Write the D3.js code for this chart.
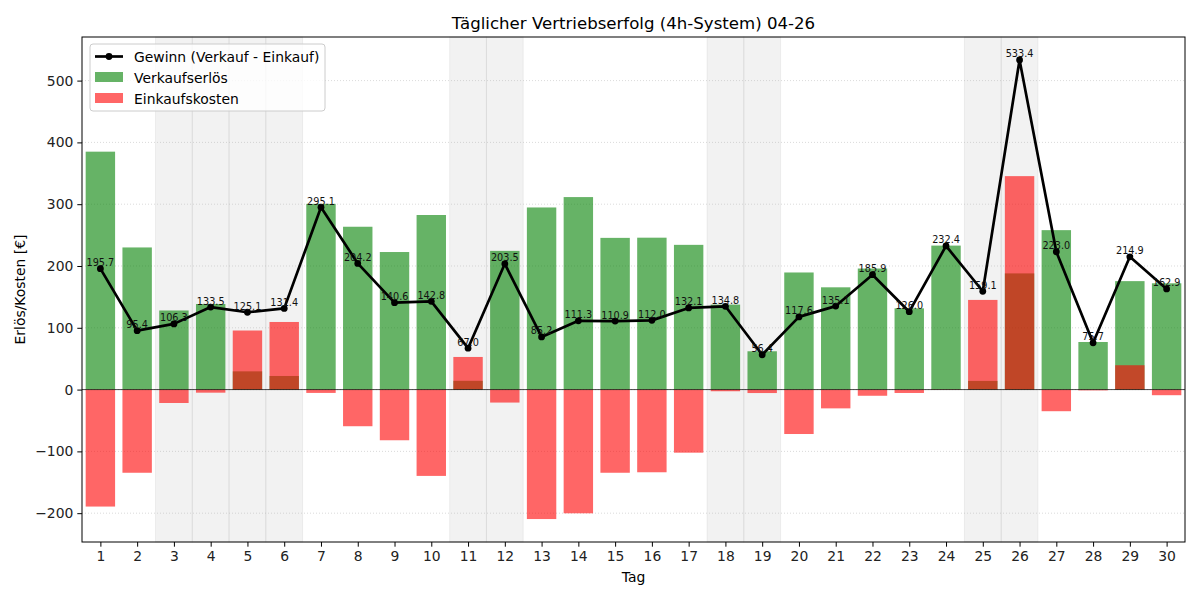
<!DOCTYPE html>
<html>
<head>
<meta charset="utf-8">
<script src="https://cdn.jsdelivr.net/npm/d3@7"></script>
<style>
  body { margin: 0; background: #fff; }
  svg { font-family: "DejaVu Sans", sans-serif; }
</style>
</head>
<body>
<div id="chart"></div>
<script>
// days of the month
const days = d3.range(1, 31)
// Verkaufserlös per day
const revenue = [385, 230, 128, 138.5, 29.5, 22, 300.5, 263.5, 222.6, 282.5,
                 14.2, 224.5, 294.7, 311.5, 245.5, 245.8, 234.2, 137.5, 62, 189.5,
                 165.5, 195.9, 131.5, 233, 14, 188, 258, 77, 175.5, 172]
// Einkaufskosten as plotted (negative = cost)
const costs = [-189.3, -134.6, -21.7, -5, 95.6, 109.4, -5.4, -59.3, -82, -139.7,
               52.8, -21, -209.5, -200.2, -134.6, -133.8, -102.1, -2.7, -5.6, -71.9,
               -30.4, -10, -5.5, -0.6, 145.1, 345.4, -35, -1.3, 39.4, -9.1]
// Gewinn labels
const profit = [195.7, 95.4, 106.3, 133.5, 125.1, 131.4, 295.1, 204.2, 140.6, 142.8,
                67.0, 203.5, 85.2, 111.3, 110.9, 112.0, 132.1, 134.8, 56.4, 117.6,
                135.1, 185.9, 126.0, 232.4, 159.1, 533.4, 223.0, 75.7, 214.9, 162.9]
// shaded days
const shadedDays = [3, 4, 5, 6, 11, 12, 18, 19, 25, 26]
const yTicks = [-200, -100, 0, 100, 200, 300, 400, 500]

const width = 1200
const height = 600
const mLeft = 82, mRight = 1185, mTop = 37, mBottom = 542
const fs = "13.9px"

const svg = d3.select("#chart").append("svg")
    .attr("width", width)
    .attr("height", height)

const x = d3.scaleLinear().domain([0.5, 30.5]).range([mLeft, mRight])
const all = revenue.concat(costs, profit)
const lo = d3.min(all), hi = d3.max(all)
const pad = (hi - lo) * 0.05
const y = d3.scaleLinear().domain([lo - pad, hi + pad]).range([mBottom, mTop])

// shaded days
svg.append("g").selectAll("rect")
    .data(shadedDays)
    .join("rect")
    .attr("x", d => x(d - 0.5))
    .attr("width", x(1.5) - x(0.5))
    .attr("y", mTop)
    .attr("height", mBottom - mTop)
    .attr("fill", "gray")
    .attr("fill-opacity", 0.1)
    .attr("stroke", "gray")
    .attr("stroke-opacity", 0.1)

// grid
svg.append("g").selectAll("line")
    .data(yTicks)
    .join("line")
    .attr("x1", mLeft).attr("x2", mRight)
    .attr("y1", d => y(d)).attr("y2", d => y(d))
    .attr("stroke", "#b0b0b0")
    .attr("stroke-opacity", 0.6)
    .attr("stroke-width", 0.8)
    .attr("stroke-dasharray", "1,2")

const bw = x(1.4) - x(0.6)

// Verkaufserlös
svg.append("g").selectAll("rect")
    .data(days)
    .join("rect")
    .attr("x", d => x(d) - bw / 2)
    .attr("width", bw)
    .attr("y", (d, i) => y(Math.max(0, revenue[i])))
    .attr("height", (d, i) => Math.abs(y(revenue[i]) - y(0)))
    .attr("fill", "green")
    .attr("opacity", 0.6)

// Einkaufskosten
svg.append("g").selectAll("rect")
    .data(days)
    .join("rect")
    .attr("x", d => x(d) - bw / 2)
    .attr("width", bw)
    .attr("y", (d, i) => y(Math.max(0, costs[i])))
    .attr("height", (d, i) => Math.abs(y(costs[i]) - y(0)))
    .attr("fill", "red")
    .attr("opacity", 0.6)

// zero line
svg.append("line")
    .attr("x1", mLeft).attr("x2", mRight)
    .attr("y1", y(0)).attr("y2", y(0))
    .attr("stroke", "black")
    .attr("stroke-opacity", 0.7)
    .attr("stroke-width", 1)

// profit line
const line = d3.line().x((d, i) => x(days[i])).y(d => y(d))
svg.append("path")
    .datum(profit)
    .attr("d", line)
    .attr("fill", "none")
    .attr("stroke", "black")
    .attr("stroke-width", 2.7)
    .attr("stroke-linejoin", "round")

svg.append("g").selectAll("circle")
    .data(profit)
    .join("circle")
    .attr("cx", (d, i) => x(days[i]))
    .attr("cy", d => y(d))
    .attr("r", 3.4)
    .attr("fill", "black")

svg.append("g").selectAll("text")
    .data(profit)
    .join("text")
    .attr("x", (d, i) => x(days[i]))
    .attr("y", d => y(d) - 2.5)
    .attr("text-anchor", "middle")
    .attr("font-size", "9.7px")
    .attr("fill", "#111")
    .text(d => d.toFixed(1))

// axes
const xAxis = d3.axisBottom(x).tickValues(days).tickSizeOuter(0).tickSize(4.7).tickPadding(4)
svg.append("g")
    .attr("transform", "translate(0," + mBottom + ")")
    .call(xAxis)
    .call(g => g.selectAll("text").attr("font-size", fs).attr("fill", "#222").attr("font-family", "DejaVu Sans"))

const yAxis = d3.axisLeft(y).tickValues(yTicks).tickSizeOuter(0).tickSize(4.7).tickPadding(4)
    .tickFormat(d => d < 0 ? "\u2212" + Math.abs(d) : d)
svg.append("g")
    .attr("transform", "translate(" + mLeft + ",0)")
    .call(yAxis)
    .call(g => g.selectAll("text").attr("font-size", fs).attr("fill", "#222").attr("font-family", "DejaVu Sans"))

svg.selectAll(".domain").remove()
svg.append("rect")
    .attr("x", mLeft).attr("y", mTop)
    .attr("width", mRight - mLeft).attr("height", mBottom - mTop)
    .attr("fill", "none")
    .attr("stroke", "black")
    .attr("stroke-width", 1)

// title and labels
svg.append("text")
    .attr("x", (mLeft + mRight) / 2).attr("y", 29)
    .attr("text-anchor", "middle")
    .attr("font-size", "16.6px")
    .text("Täglicher Vertriebserfolg (4h-System) 04-26")

svg.append("text")
    .attr("x", (mLeft + mRight) / 2).attr("y", 582)
    .attr("text-anchor", "middle")
    .attr("font-size", fs)
    .text("Tag")

svg.append("text")
    .attr("transform", "translate(25," + ((mTop + mBottom) / 2) + ") rotate(-90)")
    .attr("text-anchor", "middle")
    .attr("font-size", fs)
    .text("Erlös/Kosten [€]")

// legend
const lg = svg.append("g").attr("transform", "translate(90,44)")
lg.append("rect")
    .attr("width", 235).attr("height", 67)
    .attr("rx", 3)
    .attr("fill", "white").attr("fill-opacity", 0.8)
    .attr("stroke", "#cccccc")
lg.append("line")
    .attr("x1", 5).attr("x2", 33).attr("y1", 12.5).attr("y2", 12.5)
    .attr("stroke", "black").attr("stroke-width", 2.7)
lg.append("circle").attr("cx", 19).attr("cy", 12.5).attr("r", 3.4).attr("fill", "black")
lg.append("rect").attr("x", 5).attr("y", 28).attr("width", 28).attr("height", 10)
    .attr("fill", "green").attr("opacity", 0.6)
lg.append("rect").attr("x", 5).attr("y", 49).attr("width", 28).attr("height", 10)
    .attr("fill", "red").attr("opacity", 0.6)
const names = ["Gewinn (Verkauf - Einkauf)", "Verkaufserlös", "Einkaufskosten"]
lg.selectAll("text.lbl")
    .data(names)
    .join("text")
    .attr("class", "lbl")
    .attr("x", 44)
    .attr("y", (d, i) => 17.5 + i * 21)
    .attr("font-size", fs)
    .text(d => d)
</script>
</body>
</html>
